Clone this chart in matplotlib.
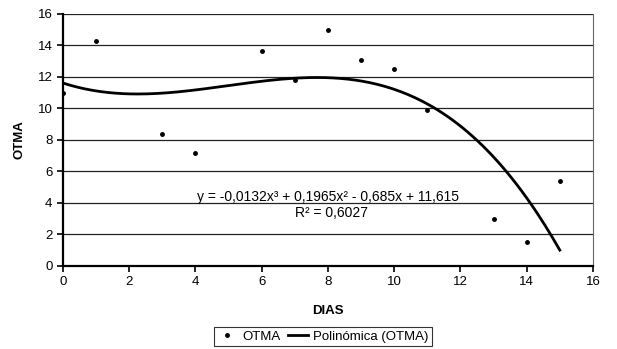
import numpy as np
import matplotlib
matplotlib.use("Agg")
import matplotlib.pyplot as plt

plt.rcParams["font.family"] = ["Liberation Sans", "DejaVu Sans"]

# observed data
dias = [0, 1, 3, 4, 6, 7, 8, 9, 10, 11, 13, 14, 15]
otma = [11.0, 14.3, 8.4, 7.2, 13.65, 11.8, 15.0, 13.1, 12.5, 9.9, 3.0, 1.5, 5.4]

# trendline coefficients (highest power first)
coef = [-0.0132, 0.1965, -0.685, 11.615]
r2 = 0.6027

x_ticks = [0, 2, 4, 6, 8, 10, 12, 14, 16]
y_ticks = [0, 2, 4, 6, 8, 10, 12, 14, 16]

fig = plt.figure(figsize=(6.17, 3.49), dpi=100)
ax = fig.add_axes([0.102, 0.238, 0.859, 0.722])

ax.grid(axis="y", color="#222222", linewidth=0.9)
ax.set_axisbelow(True)

ax.plot(dias, otma, linestyle="none", marker="o", markersize=2.5, color="black", label="OTMA")

xs = np.linspace(0, 15, 200)
ax.plot(xs, np.polyval(coef, xs), color="black", linewidth=2, label="Polinómica (OTMA)")

ax.set_xlim(0, 16)
ax.set_ylim(0, 16)
ax.set_xticks(x_ticks)
ax.set_yticks(y_ticks)
ax.tick_params(labelsize=9.5, length=4, width=1.2, direction="out")

for side in ["left", "bottom"]:
    ax.spines[side].set_linewidth(1.6)
ax.spines["top"].set_visible(False)
ax.spines["right"].set_color("#666666")

ax.set_xlabel("DIAS", fontsize=9.5, fontweight="bold", labelpad=12)
ax.set_ylabel("OTMA", fontsize=9.5, fontweight="bold", labelpad=9)

# trendline label, two lines centred on x = 8
ax.text(8.0, 4.1, "y = -0,0132x³ + 0,1965x² - 0,685x + 11,615",
        fontsize=10, ha="center", va="baseline")
ax.text(8.1, 3.1, "R² = {}".format(str(r2).replace(".", ",")),
        fontsize=10, ha="center", va="baseline")

leg = fig.legend(loc="center", bbox_to_anchor=(0.523, 0.035), ncol=2, fontsize=9.5,
                 frameon=True, fancybox=False, edgecolor="black", borderpad=0.25,
                 handlelength=1.5, handletextpad=0.4, columnspacing=0.6)
leg.get_frame().set_linewidth(0.8)

fig.savefig("out.png", dpi=100)
